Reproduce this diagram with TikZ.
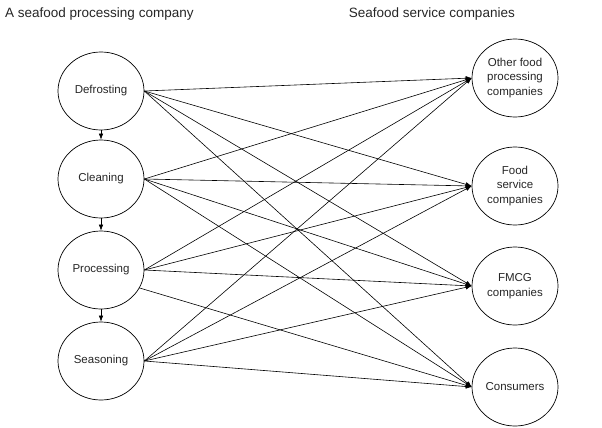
\documentclass[tikz,border=0pt]{standalone}
\usepackage{fontspec}
\setmainfont{Liberation Sans}
\usetikzlibrary{shapes.geometric,arrows.meta}
\begin{document}
\begin{tikzpicture}[x=1pt,y=-1pt,
  stage/.style={draw,ellipse,line width=0.7pt,minimum width=86pt,minimum height=78pt,inner sep=0pt,
    font=\fontsize{11.5}{14.5}\selectfont,align=center,text=black!85},
  title/.style={font=\fontsize{13.5}{16}\selectfont,inner sep=0pt,text=black!85},
  link/.style={line width=0.6pt,-{Latex[length=6pt,width=4.5pt]}}]
\useasboundingbox (0,0) rectangle (602,428);
\node[title,anchor=base west] (tl) at (5,17.5) {A seafood processing company};
\node[title,anchor=base east] (tr) at (515,17.5) {Seafood service companies};
\node[stage] (def) at (101,91) {Defrosting};
\node[stage] (cle) at (101,179) {Cleaning};
\node[stage] (pro) at (101,270) {Processing};
\node[stage] (sea) at (101,361) {Seasoning};
\node[stage] (oth) at (515,78) {Other food\\processing\\companies};
\node[stage] (fse) at (515,186) {Food\\service\\companies};
\node[stage] (fmc) at (515,286) {FMCG\\companies};
\node[stage] (con) at (515,387) {Consumers};
\draw[link] (def) -- (cle);
\draw[link] (cle) -- (pro);
\draw[link] (pro) -- (sea);
\foreach \s in {def,cle,pro,sea}{
  \foreach \t in {oth,fse,fmc}{
    \draw[link] (\s.east) -- (\t.west);
  }
}
\draw[link] (def.east) -- (con.west);
\draw[link] (cle.east) -- (con.west);
\draw[link] (pro.-25) -- (con.west);
\draw[link] (sea.east) -- (con.west);
\end{tikzpicture}
\end{document}
